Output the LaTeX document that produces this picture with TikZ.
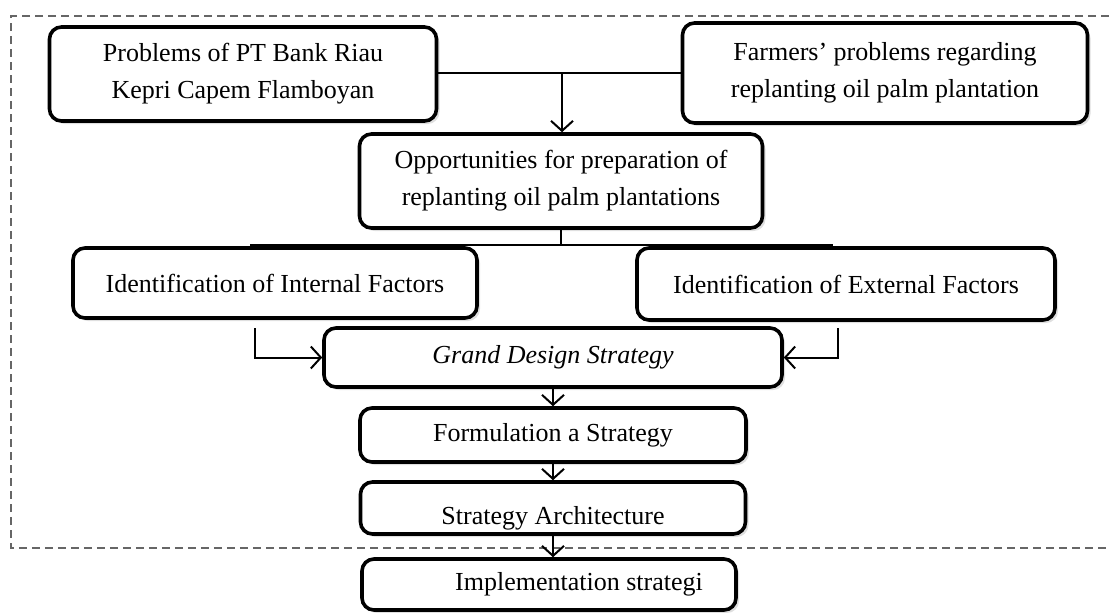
\documentclass[tikz,border=0pt]{standalone}
\usepackage{fontspec}
\setmainfont{Liberation Serif}
\usepackage{xcolor}
\usepackage{tikz}
\usetikzlibrary{arrows.meta}
\usetikzlibrary{shadows}
\tikzset{
  font={\fontsize{13pt}{18.5pt}\selectfont}}

\begin{document}
\begin{tikzpicture}[x=0.5pt, y=-0.5pt]

        \tikzset{box/.style = {rounded corners=6pt, draw=black, line width=1.8pt, fill=white,
                   align=center, inner sep=0pt,
                   drop shadow={shadow xshift=1.5pt, shadow yshift=-1.5pt, opacity=0.25}},
                 edge/.style = {line width=1pt, -{Straight Barb[length=5pt, width=11pt]}},
                 link/.style = {line width=1pt},
                 frame/.style = {dash pattern=on 4pt off 2.5pt, line width=1pt, black!60}}

        \useasboundingbox (0,0) rectangle (1109,612);

        % frame
        \draw[frame] (1109,16) -- (11,16) -- (11,548) -- (1109,548);

        % vertices
        \node[box, minimum width=193.5pt, minimum height=47pt] (bank)
            at (243,74) {Problems of PT Bank Riau\\Kepri Capem Flamboyan};
        \node[box, minimum width=202.5pt, minimum height=50pt] (farm)
            at (885,73) {Farmers' problems regarding\\replanting oil palm plantation};
        \node[box, minimum width=201.5pt, minimum height=47pt] (opp)
            at (561,181) {Opportunities for preparation of\\replanting oil palm plantations};
        \node[box, minimum width=202pt, minimum height=35pt] (intf)
            at (275,283) {Identification of Internal Factors};
        \node[box, minimum width=209pt, minimum height=36pt] (extf)
            at (846,284) {Identification of External Factors};
        \node[box, minimum width=229pt, minimum height=29.5pt] (gd)
            at (553,357.5) {\itshape Grand Design Strategy};
        \node[box, minimum width=193pt, minimum height=27pt] (form)
            at (553,435) {Formulation a Strategy};
        \node[box, minimum width=192.5pt, minimum height=26pt] (arch)
            at (553,508) {\raisebox{-5pt}[\height][\depth]{Strategy Architecture}};
        \node[box, minimum width=187pt, minimum height=25.5pt] (impl)
            at (549,584.5) {\hspace*{30pt}Implementation strategi};

        \coordinate (join) at (562,73);
        \coordinate (bl) at (250,245);
        \coordinate (br) at (833,245);
        \coordinate (inl) at (255,328);
        \coordinate (exl) at (838,328);

        %edges
        \draw[link] (bank.east |- farm.west) -- (farm.west);
        \draw[edge] (join) -- (join |- opp.north);
        \draw[link] (opp.south) -- (opp.south |- bl);
        \draw[link] (bl) -- (br);
        \draw[edge] (inl) |- (gd.west);
        \draw[edge] (exl) |- (gd.east);
        \draw[edge] (gd) -- (form);
        \draw[edge] (form) -- (arch);
        \draw[edge] (arch.south) -- (arch.south |- impl.north);

\end{tikzpicture}
\end{document}
